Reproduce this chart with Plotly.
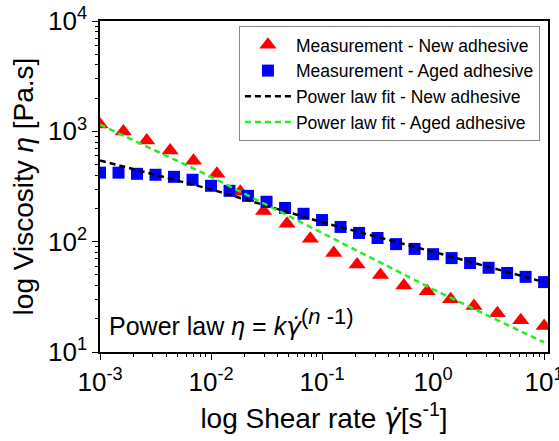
import plotly.graph_objects as go

# ---- data ----
x_new = [0.001, 0.001624, 0.002637, 0.004281, 0.006952, 0.01129, 0.01833, 0.02976,
         0.04833, 0.07848, 0.1274, 0.2069, 0.3360, 0.5456, 0.8859, 1.438, 2.336,
         3.793, 6.158, 10.0]
eta_new = [1152, 994, 825, 669, 542, 413, 283, 190, 145, 106, 79, 62, 50, 40,
           35.5, 30.1, 26.1, 22.5, 19.4, 17.2]

x_aged = [0.001, 0.001468, 0.002154, 0.003162, 0.004642, 0.006813, 0.01, 0.01468,
          0.02154, 0.03162, 0.04642, 0.06813, 0.1, 0.1468, 0.2154, 0.3162, 0.4642,
          0.6813, 1.0, 1.468, 2.154, 3.162, 4.642, 6.813, 10.0]
eta_aged = [422, 422, 412, 404, 387, 364, 321, 289, 260, 230, 202, 179, 157, 136,
            120, 108, 95, 86, 77, 71, 64, 58, 52, 48, 43]

x_fit = [0.001, 0.01, 0.1, 1.0, 10.0]
fit_black = [545, 298, 150, 81, 43]
fit_green = [1151, 387, 120, 37, 12.2]

names = ["Measurement - New adhesive", "Measurement - Aged adhesive",
         "Power law fit - New adhesive", "Power law fit - Aged adhesive"]

x_tickvals = [0.001, 0.01, 0.1, 1, 10]
x_ticktext = ["10<sup>-3</sup>", "10<sup>-2</sup>", "10<sup>-1</sup>",
              "10<sup>0</sup>", "10<sup>1</sup>"]
y_tickvals = [10, 100, 1000, 10000]
y_ticktext = ["10<sup>1</sup>", "10<sup>2</sup>", "10<sup>3</sup>", "10<sup>4</sup>"]
minor_digits = [2, 3, 4, 5, 6, 7, 8, 9]
x_minor = [d * v for v in x_tickvals[:-1] for d in minor_digits]
y_minor = [d * v for v in y_tickvals[:-1] for d in minor_digits]

FONT = "Liberation Sans, Arial, sans-serif"
GDOT = "<span style=\"font-family:'DejaVu Sans'\"><i>γ̇</i></span>"

fig = go.Figure()
fig.add_trace(go.Scatter(x=x_new, y=eta_new, mode="markers", name=names[0],
                         marker=dict(symbol="triangle-up", size=15, color="#ff0000",
                                     line=dict(width=0))))
fig.add_trace(go.Scatter(x=x_aged, y=eta_aged, mode="markers", name=names[1],
                         marker=dict(symbol="square", size=12, color="#0000ff",
                                     line=dict(width=0))))
fig.add_trace(go.Scatter(x=x_fit, y=fit_black, mode="lines", name=names[2],
                         line=dict(color="#000000", width=2.5, dash="6px,4px")))
fig.add_trace(go.Scatter(x=x_fit, y=fit_green, mode="lines", name=names[3],
                         line=dict(color="#22ee22", width=2.5, dash="6px,4px")))

axis_common = dict(
    showline=True, linecolor="black", linewidth=1.5, mirror=True,
    ticks="outside", ticklen=6, tickwidth=1.2, tickcolor="black",
    showgrid=False, zeroline=False, ticklabeloverflow="allow", automargin=False,
    tickfont=dict(family=FONT, size=26, color="black"),
)

fig.update_xaxes(type="log", range=[-3, 1.035], tickvals=x_tickvals, ticktext=x_ticktext,
                 minor=dict(tickvals=x_minor, ticks="outside", ticklen=3, tickwidth=1,
                            tickcolor="black", showgrid=False),
                 title=dict(text="log Shear rate " + GDOT + "[s<sup>-1</sup>]",
                            font=dict(family=FONT, size=28, color="black"), standoff=12),
                 **axis_common)
fig.update_yaxes(type="log", range=[1, 4], tickvals=y_tickvals, ticktext=y_ticktext,
                 minor=dict(tickvals=y_minor, ticks="outside", ticklen=3, tickwidth=1,
                            tickcolor="black", showgrid=False),
                 title=dict(text="log Viscosity <i>η</i> [Pa.s]",
                            font=dict(family=FONT, size=28, color="black"), standoff=6),
                 **axis_common)

fig.add_annotation(xref="paper", yref="paper", x=0.015, y=0.09, xanchor="left",
                   yanchor="middle", showarrow=False,
                   text=("Power law <i>η</i> = <i>k</i>" + GDOT +
                         "<sup><span style=\"font-size:22px\">(<i>n</i> -1)</span></sup>"),
                   font=dict(family=FONT, size=25, color="black"))

fig.update_layout(
    width=559, height=441,
    margin=dict(l=100, r=11, t=21, b=89, autoexpand=False),
    paper_bgcolor="white", plot_bgcolor="white",
    font=dict(family=FONT, color="black"),
    legend=dict(x=0.982, y=0.985, xanchor="right", yanchor="top",
                bgcolor="white", bordercolor="#888888", borderwidth=1,
                font=dict(family=FONT, size=17.5, color="black"),
                tracegroupgap=0, itemwidth=46),
    showlegend=True,
)

fig.write_html("out.html")
